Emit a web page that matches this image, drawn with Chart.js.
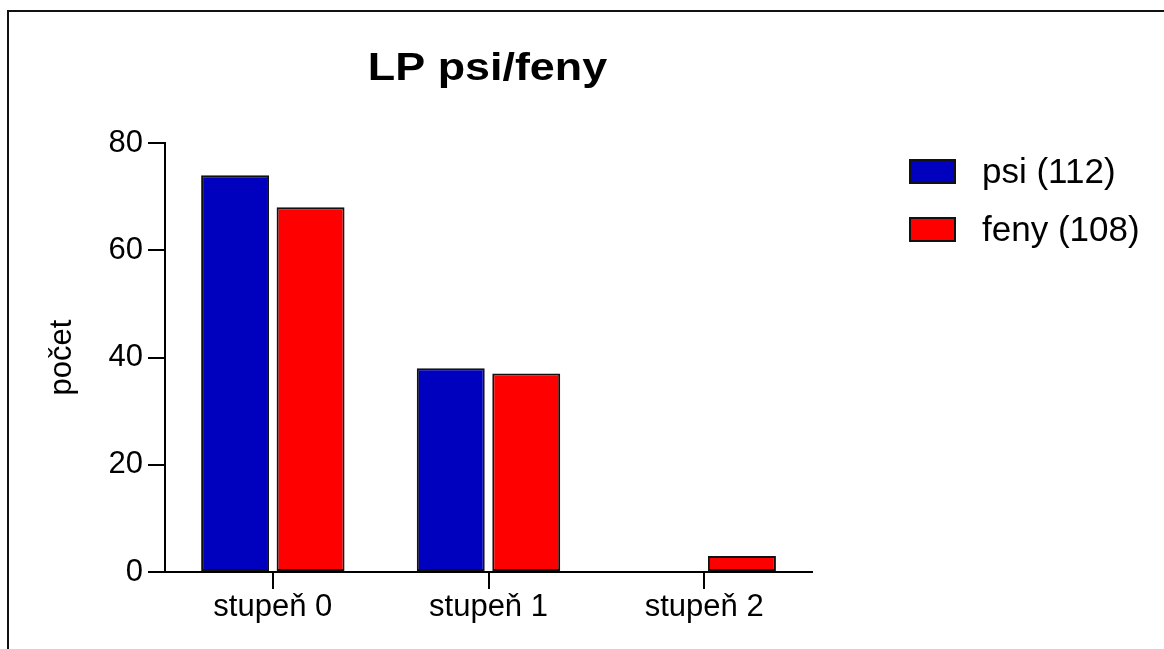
<!DOCTYPE html>
<html>
<head>
<meta charset="utf-8">
<script src="https://cdn.jsdelivr.net/npm/chart.js@4/dist/chart.umd.min.js"></script>
<style>
  html, body { margin: 0; padding: 0; background: #fff; }
  canvas { display: block; }
</style>
</head>
<body>
<canvas id="c" width="1164" height="649"></canvas>
<script>
var categories = ['stupeň 0', 'stupeň 1', 'stupeň 2'];
var psiValues = [74, 38, 0];
var fenyValues = [68, 37, 3];
var seriesLabels = ['psi (112)', 'feny (108)'];
var yTickValues = [0, 20, 40, 60, 80];
var chartTitle = 'LP psi/feny';
var yTitle = 'počet';

var FONT = "'Liberation Sans', Arial, Helvetica, sans-serif";
Chart.defaults.font.family = FONT;
Chart.defaults.color = '#000';

// frame, title and legend drawn by hand around the plot
var decorPlugin = {
  id: 'decor',
  beforeDraw: function(chart) {
    var ctx = chart.ctx;
    ctx.save();
    ctx.fillStyle = '#fff';
    ctx.fillRect(0, 0, chart.width, chart.height);
    ctx.strokeStyle = '#111';
    ctx.lineWidth = 2;
    ctx.strokeRect(8, 11, 1300, 800);
    ctx.restore();
  },
  afterDraw: function(chart) {
    var ctx = chart.ctx;
    var area = chart.chartArea;
    ctx.save();
    // title, a bit wide like the source
    ctx.translate((area.left + area.right) / 2 - 1, 80);
    ctx.scale(1.15, 1);
    ctx.font = 'bold 39px ' + FONT;
    ctx.fillStyle = '#000';
    ctx.textAlign = 'center';
    ctx.textBaseline = 'alphabetic';
    ctx.fillText(chartTitle, 0, 0);
    ctx.restore();

    ctx.save();
    chart.data.datasets.forEach(function(ds, i) {
      var y = 160 + i * 58;
      ctx.fillStyle = ds.backgroundColor;
      ctx.fillRect(910, y, 45, 23);
      ctx.strokeStyle = '#111';
      ctx.lineWidth = 2;
      ctx.strokeRect(910, y, 45, 23);
      ctx.fillStyle = '#000';
      ctx.font = '35px ' + FONT;
      ctx.textAlign = 'left';
      ctx.textBaseline = 'middle';
      ctx.fillText(ds.label, 982, y + 13);
    });
    ctx.restore();
  }
};

new Chart(document.getElementById('c'), {
  type: 'bar',
  data: {
    labels: categories,
    datasets: [
      { label: seriesLabels[0], data: psiValues, backgroundColor: '#0000bf',
        borderColor: '#111', borderWidth: 2, borderSkipped: false },
      { label: seriesLabels[1], data: fenyValues, backgroundColor: '#ff0000',
        borderColor: '#111', borderWidth: 2, borderSkipped: false }
    ]
  },
  options: {
    responsive: false,
    animation: false,
    categoryPercentage: 0.7,
    barPercentage: 0.9,
    layout: { padding: { left: 0, top: 143, right: 352, bottom: 0 } },
    plugins: {
      legend: { display: false },
      title: { display: false },
      tooltip: { enabled: false }
    },
    scales: {
      x: {
        grid: { offset: false, drawOnChartArea: false, drawTicks: true, tickLength: 17,
                color: '#000', lineWidth: 2 },
        border: { display: true, color: '#000', width: 2 },
        ticks: { font: { size: 31 }, padding: 0, color: '#000' },
        afterFit: function(s) { s.height = 77; }
      },
      y: {
        min: 0,
        max: 80,
        afterBuildTicks: function(s) {
          s.ticks = yTickValues.map(function(v) { return { value: v }; });
        },
        grid: { drawOnChartArea: false, drawTicks: true, tickLength: 17,
                color: '#000', lineWidth: 2 },
        border: { display: true, color: '#000', width: 2 },
        ticks: { font: { size: 31 }, padding: 5, color: '#000' },
        title: { display: true, text: yTitle, font: { size: 31 }, color: '#000',
                 padding: { top: 44, bottom: 0 } },
        afterFit: function(s) { s.width = 165; }
      }
    }
  },
  plugins: [decorPlugin]
});
</script>
</body>
</html>
